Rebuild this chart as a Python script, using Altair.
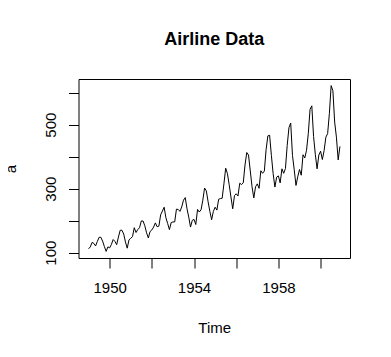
import altair as alt
import pandas as pd

# Monthly airline passengers (thousands), 1949-1960
start_year = 1949
v1949 = [112, 118, 132, 129, 121, 135, 148, 148, 136, 119, 104, 118]
v1950 = [115, 126, 141, 135, 125, 149, 170, 170, 158, 133, 114, 140]
v1951 = [145, 150, 178, 163, 172, 178, 199, 199, 184, 162, 146, 166]
v1952 = [171, 180, 193, 181, 183, 218, 230, 242, 209, 191, 172, 194]
v1953 = [196, 196, 236, 235, 229, 243, 264, 272, 237, 211, 180, 201]
v1954 = [204, 188, 235, 227, 234, 264, 302, 293, 259, 229, 203, 229]
v1955 = [242, 233, 267, 269, 270, 315, 364, 347, 312, 274, 237, 278]
v1956 = [284, 277, 317, 313, 318, 374, 413, 405, 355, 306, 271, 306]
v1957 = [315, 301, 356, 348, 355, 422, 465, 467, 404, 347, 305, 336]
v1958 = [340, 318, 362, 348, 363, 435, 491, 505, 404, 359, 310, 337]
v1959 = [360, 342, 406, 396, 420, 472, 548, 559, 463, 407, 362, 405]
v1960 = [417, 391, 419, 461, 472, 535, 622, 606, 508, 461, 390, 432]

x_ticks = [1950, 1952, 1954, 1956, 1958, 1960]
y_ticks = [100, 200, 300, 400, 500, 600]

years = [v1949, v1950, v1951, v1952, v1953, v1954,
         v1955, v1956, v1957, v1958, v1959, v1960]
rows = []
for i, vals in enumerate(years):
    for m, v in enumerate(vals):
        rows.append({"t": start_year + i + m / 12.0, "a": v})
df = pd.DataFrame(rows)

FONT = "Liberation Sans"

chart = alt.Chart(df).mark_line(color="black", strokeWidth=1).encode(
    x=alt.X("t:Q",
            scale=alt.Scale(domain=[1948.523, 1961.394], nice=False, zero=False),
            axis=alt.Axis(values=x_ticks, title="Time",
                          labelExpr="(datum.value - 1950) % 4 == 0 ? datum.label : ''",
                          format="d", grid=False, domain=False,
                          tickSize=10, tickColor="black", tickWidth=1,
                          labelPadding=12, labelFontSize=15, labelFont=FONT,
                          labelColor="black", labelFlush=False,
                          titleFontSize=15, titleFont=FONT, titleFontWeight="normal",
                          titleColor="black", titleY=69, titleBaseline="middle")),
    y=alt.Y("a:Q",
            scale=alt.Scale(domain=[83.3, 642.7], nice=False, zero=False),
            axis=alt.Axis(values=y_ticks, title="a",
                          labelExpr="(datum.value - 100) % 200 == 0 ? datum.label : ''",
                          grid=False, domain=False,
                          tickSize=10, tickColor="black", tickWidth=1,
                          labelAngle=-90, labelPadding=10, labelFontSize=15,
                          labelFont=FONT, labelColor="black", labelFlush=False,
                          labelAlign="center", labelBaseline="bottom",
                          titleFontSize=15, titleFont=FONT, titleFontWeight="normal",
                          titleColor="black", titleX=-60.5, titleBaseline="bottom")),
).properties(
    width=271.5,
    height=179,
    autosize=alt.AutoSizeParams(type="none"),
    padding={"left": 70.5, "top": 71, "right": 33, "bottom": 91},
    title=alt.TitleParams("Airline Data", font=FONT, fontSize=18, fontWeight="bold",
                          color="black", anchor="middle", offset=30),
).configure(
    background="white",
    view=alt.ViewConfig(stroke="black", strokeWidth=1),
)

chart.save("out.html", embed_options={"renderer": "svg", "actions": False})
